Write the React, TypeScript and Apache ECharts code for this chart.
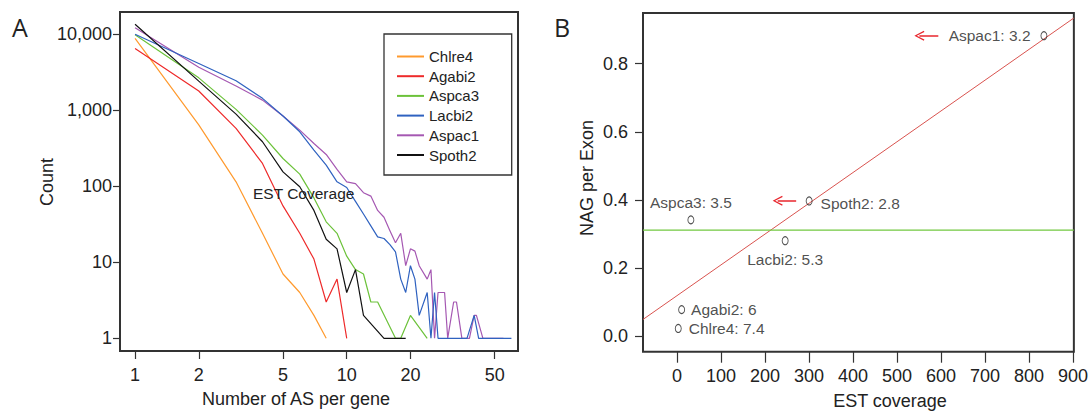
import React, { useEffect, useRef } from "react";
import * as echarts from "echarts";

const FONT = "'Liberation Sans', Arial, Helvetica, sans-serif";
const TEXT = "#222";
const AXIS = "#333";

// ---------- Panel A data: (number of AS per gene, count) ----------
const speciesA = ["Chlre4", "Agabi2", "Aspca3", "Lacbi2", "Aspac1", "Spoth2"];
const colorsA = ["#ff9a2e", "#ee2a2a", "#6cc23a", "#2f62c0", "#a558b2", "#111111"];

const chlre4 = [[1, 8780], [2, 640], [3, 114], [4, 24], [5, 7], [6, 4], [7, 2], [8, 1]];
const agabi2 = [[1, 6460], [2, 1780], [3, 574], [4, 199], [5, 55], [6, 24], [7, 11], [8, 3], [9, 6], [10, 1]];
const aspca3 = [[1, 9800], [2, 2650], [3, 1020], [4, 469], [5, 231], [6, 144], [7, 70], [8, 34], [9, 24], [10, 12],
  [11, 8], [12, 7], [13, 3], [14, 3], [17, 1], [18, 1], [20, 2], [24, 1]];
const lacbi2 = [[1, 9900], [2, 4100], [3, 2430], [4, 1425], [5, 834], [6, 518], [7, 298], [8, 189], [9, 114], [10, 96],
  [11, 63], [12, 43], [13, 30], [14, 21.5], [15, 20.5], [16, 17], [17, 13.7], [18, 6], [19, 4], [20, 9], [21, 6],
  [22, 2], [24, 4], [25, 1], [26, 4], [27, 1], [37, 1], [40, 2], [42, 1], [60, 1]];
const aspac1 = [[1, 12100], [2, 3650], [3, 2070], [4, 1350], [5, 834], [6, 545], [7, 364], [8, 261], [9, 166], [10, 114],
  [11, 108], [12, 82], [13, 74], [14, 48], [15, 39], [16, 26], [17, 18], [18, 24], [19, 9], [20, 15], [21, 14], [22, 9],
  [24, 6], [25, 8], [26, 1], [27, 4], [29, 4], [30, 1], [32, 3], [33, 3], [35, 1], [38, 1], [40, 2], [41, 2], [44, 1], [55, 1]];
const spoth2 = [[1, 13400], [2, 2400], [3, 885], [4, 383], [5, 154], [6, 98], [7, 48], [8, 20], [9, 15], [10, 4],
  [11, 8], [12, 2], [15, 1], [19, 1]];
const seriesA = [chlre4, agabi2, aspca3, lacbi2, aspac1, spoth2];

const xTicksA = [1, 2, 5, 10, 20, 50];
const yTicksA = [1, 10, 100, 1000, 10000];
const xRangeA = [0.849, 64.45];
const yRangeA = [0.681, 19450];

// ---------- Panel B data ----------
const speciesB = ["Aspac1", "Spoth2", "Aspca3", "Lacbi2", "Agabi2", "Chlre4"];
const estCoverage = [834, 300.5, 31.8, 246, 10.8, 3.1];
const nagPerExon = [0.882, 0.3975, 0.342, 0.281, 0.0787, 0.0236];
const asPerGene = ["3.2", "2.8", "3.5", "5.3", "6", "7.4"];
const regLine = [[-77, 0.05], [902, 0.934]];
const meanNag = 0.312;
const arrowsB = [
  [[594, 0.882], [551, 0.882]],
  [[271, 0.398], [229, 0.398]],
];
const xTicksB = [0, 100, 200, 300, 400, 500, 600, 700, 800, 900];
const yTicksB = [0, 0.2, 0.4, 0.6, 0.8];
const xRangeB = [-77, 902];
const yRangeB = [-0.0446, 0.9487];

const ARROW_HEAD = "path://M0,10 L5,0 L10,10 L8.8,10.6 L5,2.6 L1.2,10.6 Z";

const labelPlacement: Record<string, any> = {
  Aspac1: { position: "left", distance: 10 },
  Spoth2: { position: "right", distance: 8, offset: [0, 3] },
  Aspca3: { position: "top", distance: 5 },
  Lacbi2: { position: "bottom", distance: 6 },
  Agabi2: { position: "right", distance: 6 },
  Chlre4: { position: "right", distance: 7 },
};

const tickLabel = { fontSize: 18, color: TEXT, fontFamily: FONT };

export default function App() {
  const ref = useRef<HTMLDivElement>(null);

  useEffect(() => {
    if (!ref.current) return;
    const chart = echarts.init(ref.current, null, { renderer: "svg" });

    const xTickValsA = xTicksA.map((v) => Math.log10(v));
    const yTickValsA = yTicksA.map((v) => Math.log10(v));

    const lineSeriesA = speciesA.map((name, i) => ({
      name,
      type: "line",
      xAxisIndex: 0,
      yAxisIndex: 0,
      symbol: "none",
      data: seriesA[i].map(([n, c]) => [Math.log10(n), Math.log10(c)]),
      lineStyle: { color: colorsA[i], width: 1.2 },
      itemStyle: { color: colorsA[i] },
      z: name === "Aspac1" ? 2 : name === "Spoth2" ? 4 : 3,
    }));

    const hiddenLine = { show: false, onZero: false };

    const option: any = {
      animation: false,
      backgroundColor: "#ffffff",
      textStyle: { fontFamily: FONT },
      grid: [
        { left: 120, top: 12, width: 398, height: 339, show: true, borderColor: AXIS, borderWidth: 2, backgroundColor: "transparent" },
        { left: 643, top: 13, width: 433, height: 338.7, show: true, borderColor: AXIS, borderWidth: 2, backgroundColor: "transparent" },
      ],
      xAxis: [
        {
          type: "value",
          gridIndex: 0,
          min: Math.log10(xRangeA[0]),
          max: Math.log10(xRangeA[1]),
          axisLine: hiddenLine,
          splitLine: { show: false },
          axisTick: { show: true, inside: false, length: 8, lineStyle: { color: AXIS, width: 1.2 }, customValues: xTickValsA },
          axisLabel: {
            ...tickLabel,
            margin: 15,
            customValues: xTickValsA,
            formatter: (v: number) => String(Math.round(Math.pow(10, v))),
          },
        },
        {
          type: "value",
          gridIndex: 1,
          min: xRangeB[0],
          max: xRangeB[1],
          axisLine: hiddenLine,
          splitLine: { show: false },
          axisTick: { show: true, inside: false, length: 11, lineStyle: { color: AXIS, width: 1.2 }, customValues: xTicksB },
          axisLabel: { ...tickLabel, margin: 15, customValues: xTicksB, formatter: (v: number) => String(Math.round(v)) },
        },
      ],
      yAxis: [
        {
          type: "value",
          gridIndex: 0,
          min: Math.log10(yRangeA[0]),
          max: Math.log10(yRangeA[1]),
          axisLine: hiddenLine,
          splitLine: { show: false },
          axisTick: { show: true, inside: false, length: 7, lineStyle: { color: AXIS, width: 1.2 }, customValues: yTickValsA },
          axisLabel: {
            ...tickLabel,
            margin: 8,
            customValues: yTickValsA,
            formatter: (v: number) => Math.round(Math.pow(10, v)).toLocaleString("en-US"),
          },
        },
        {
          type: "value",
          gridIndex: 1,
          min: yRangeB[0],
          max: yRangeB[1],
          axisLine: hiddenLine,
          splitLine: { show: false },
          axisTick: { show: true, inside: false, length: 8, lineStyle: { color: AXIS, width: 1.2 }, customValues: yTicksB },
          axisLabel: {
            ...tickLabel,
            margin: 15,
            padding: [8, 0, 0, 0],
            customValues: yTicksB,
            formatter: (v: number) => v.toFixed(1),
          },
        },
      ],
      legend: {
        data: speciesA,
        orient: "vertical",
        left: 397,
        top: 49,
        padding: 0,
        icon: "rect",
        itemWidth: 27,
        itemHeight: 2,
        itemGap: 4.7,
        itemTextGap: 8,
        textStyle: { fontSize: 15, color: TEXT, fontFamily: FONT },
        selectedMode: false,
      },
      series: [
        ...lineSeriesA,
        {
          name: "regression",
          type: "line",
          xAxisIndex: 1,
          yAxisIndex: 1,
          symbol: "none",
          data: regLine,
          lineStyle: { color: "#d9534f", width: 1 },
          itemStyle: { color: "#d9534f" },
          z: 2,
        },
        {
          name: "mean",
          type: "line",
          xAxisIndex: 1,
          yAxisIndex: 1,
          symbol: "none",
          data: [[xRangeB[0], meanNag], [xRangeB[1], meanNag]],
          lineStyle: { color: "#72c840", width: 1.2 },
          itemStyle: { color: "#72c840" },
          z: 2,
        },
        {
          name: "species",
          type: "scatter",
          xAxisIndex: 1,
          yAxisIndex: 1,
          symbol: "circle",
          symbolSize: [6, 8],
          itemStyle: { color: "rgba(0,0,0,0)", borderColor: "#222", borderWidth: 1 },
          z: 5,
          label: {
            show: true,
            fontSize: 15.5,
            color: TEXT,
            fontFamily: FONT,
            formatter: (p: any) => `${p.name}: ${asPerGene[p.dataIndex]}`,
          },
          data: speciesB.map((name, i) => ({
            name,
            value: [estCoverage[i], nagPerExon[i]],
            label: labelPlacement[name],
          })),
          markLine: {
            silent: true,
            animation: false,
            symbol: ["none", ARROW_HEAD],
            symbolSize: 10,
            label: { show: false },
            itemStyle: { color: "#e8262d" },
            lineStyle: { color: "#e8262d", width: 1.5, type: "solid" },
            data: arrowsB.map(([from, to]) => [{ coord: from }, { coord: to }]),
          },
        },
      ],
      graphic: [
        {
          type: "rect",
          shape: { x: 384, y: 34, width: 127.7, height: 141 },
          style: { fill: "none", stroke: AXIS, lineWidth: 1.3 },
          z: 10,
        },
        {
          type: "text",
          x: 253,
          y: 193,
          style: { text: "EST Coverage", fontSize: 15.5, fontFamily: FONT, fill: TEXT, align: "left", verticalAlign: "middle" },
          z: 10,
        },
        {
          type: "text",
          x: 296,
          y: 399,
          style: { text: "Number of AS per gene", fontSize: 18, fontFamily: FONT, fill: TEXT, align: "center", verticalAlign: "middle" },
        },
        {
          type: "text",
          x: 47,
          y: 182,
          rotation: Math.PI / 2,
          style: { text: "Count", fontSize: 18, fontFamily: FONT, fill: TEXT, align: "center", verticalAlign: "middle" },
        },
        {
          type: "text",
          x: 890,
          y: 401,
          style: { text: "EST coverage", fontSize: 18, fontFamily: FONT, fill: TEXT, align: "center", verticalAlign: "middle" },
        },
        {
          type: "text",
          x: 587,
          y: 178,
          rotation: Math.PI / 2,
          style: { text: "NAG per Exon", fontSize: 18, fontFamily: FONT, fill: TEXT, align: "center", verticalAlign: "middle" },
        },
        {
          type: "text",
          x: 12,
          y: 27,
          style: { text: "A", fontSize: 25, fontFamily: "'Open Sans', 'Noto Sans', sans-serif", fill: TEXT, align: "left", verticalAlign: "middle" },
        },
        {
          type: "text",
          x: 554,
          y: 27,
          style: { text: "B", fontSize: 25, fontFamily: "'Open Sans', 'Noto Sans', sans-serif", fill: TEXT, align: "left", verticalAlign: "middle" },
        },
      ],
    };

    chart.setOption(option);
    return () => chart.dispose();
  }, []);

  return (
    <div
      ref={ref}
      style={{ position: "fixed", left: 0, top: 0, width: 1091, height: 413, background: "#fff" }}
    />
  );
}
